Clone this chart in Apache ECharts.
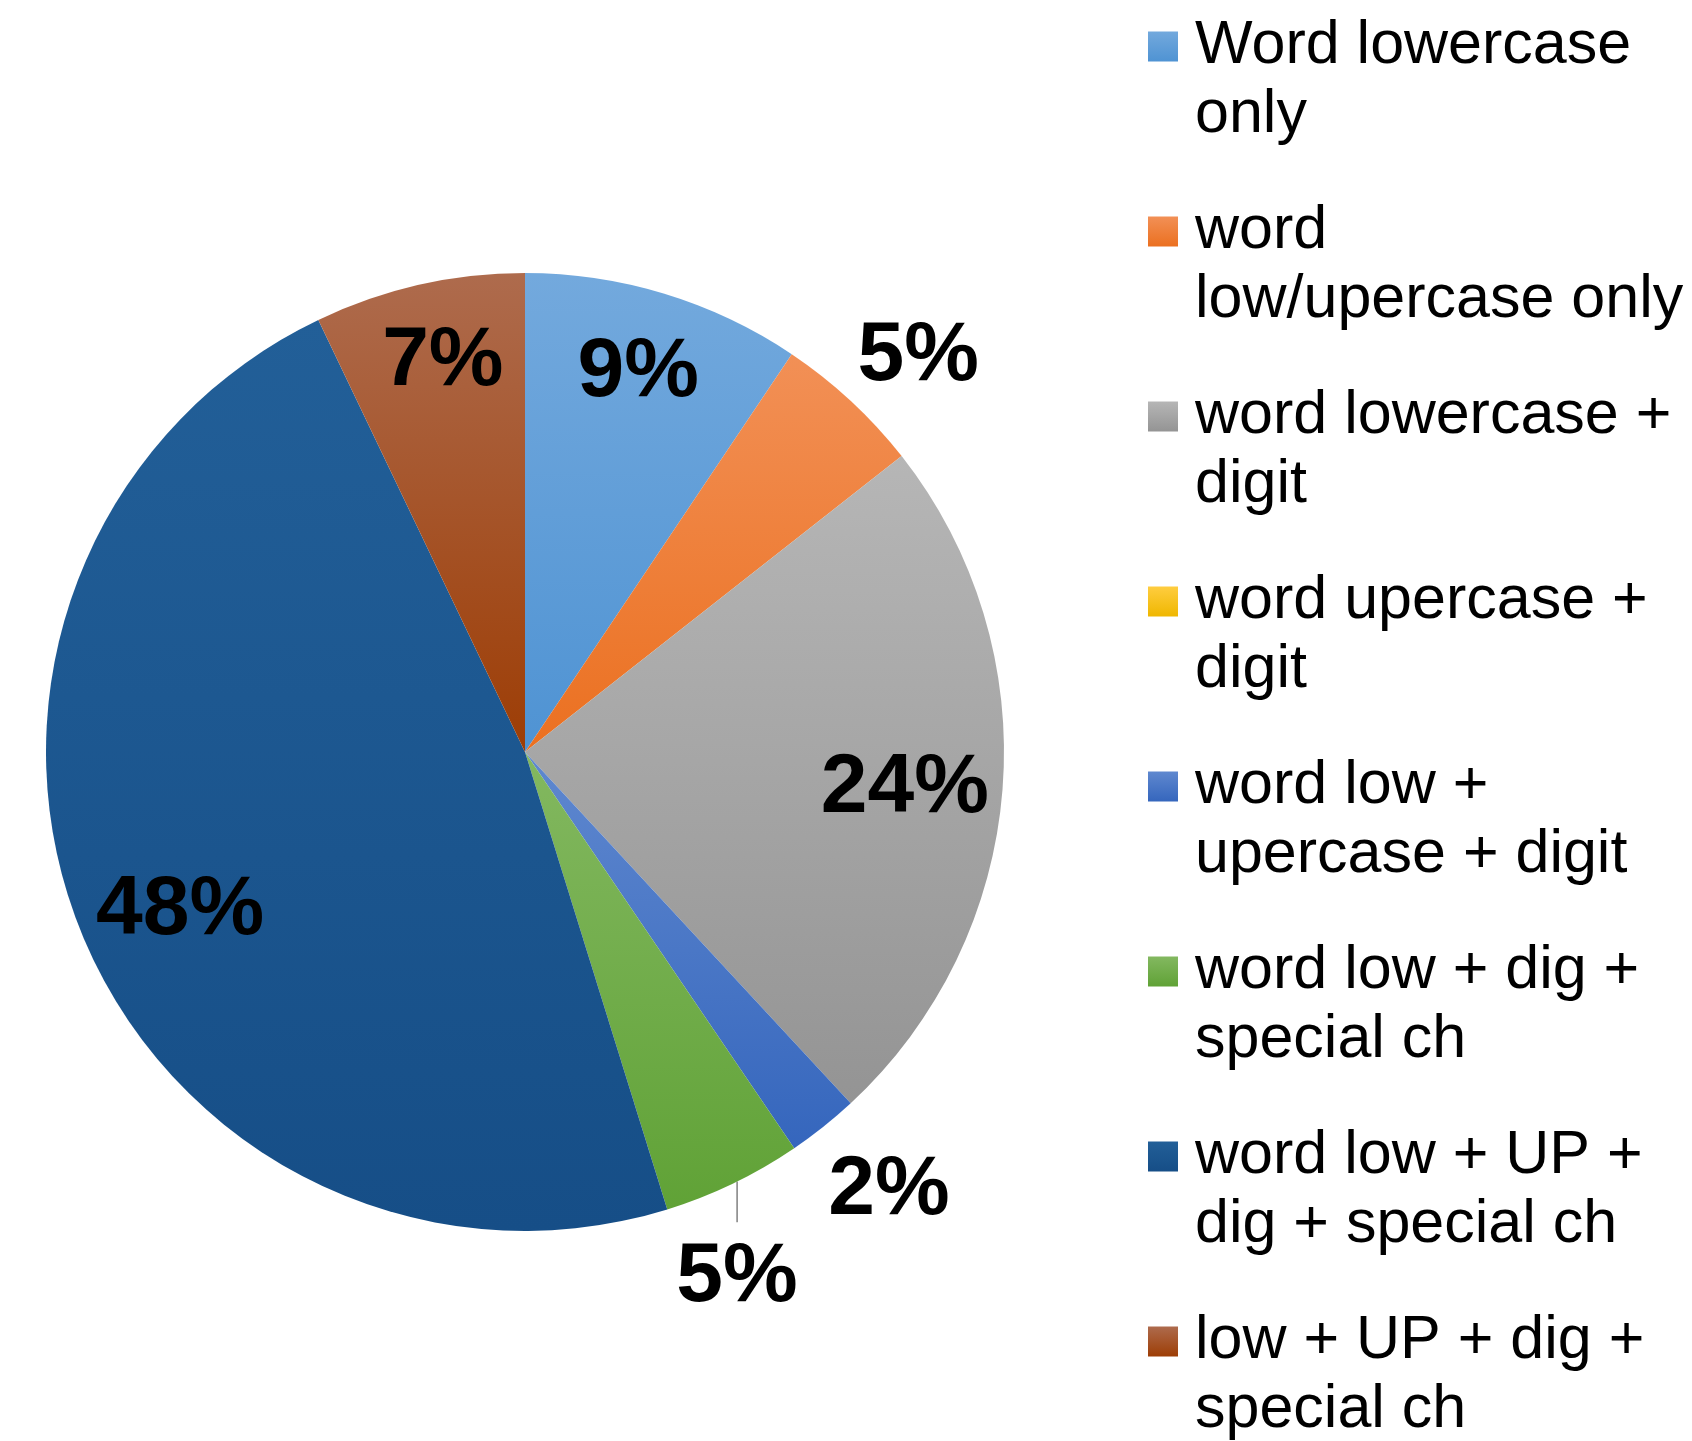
<!DOCTYPE html>
<html>
<head>
<meta charset="utf-8">
<script src="https://cdn.jsdelivr.net/npm/echarts@6/dist/echarts.min.js"></script>
<style>
  html, body { margin: 0; padding: 0; background: #ffffff; }
  #chart { width: 1692px; height: 1441px; }
</style>
</head>
<body>
<div id="chart"></div>
<script>
// ---- data ----
const categories = [
  'Word lowercase\nonly',
  'word\nlow/upercase only',
  'word lowercase +\ndigit',
  'word upercase +\ndigit',
  'word low +\nupercase + digit',
  'word low + dig +\nspecial ch',
  'word low + UP +\ndig + special ch',
  'low + UP + dig +\nspecial ch'
];
const values = [9.4, 5.0, 23.7, 0, 2.4, 4.7, 47.7, 7.1];
// gradient stops (top, bottom) per slice
const colorsTop    = ['#73a9dd', '#f29056', '#b6b6b6', '#ffcd40', '#5f88cf', '#83b860', '#225f98', '#ae6b4d'];
const colorsBottom = ['#4f93d3', '#eb7020', '#949494', '#efb700', '#3566bd', '#60a236', '#164e87', '#9d3d05'];

// ---- label placement config (styling, not data) ----
const nearEdgeIdx = [0, 7];     // inside, close to the rim
const midIdx = [2, 6];          // inside, a little deeper
const outsideIdx = [1, 4, 5];   // outside the pie
const leaderIdx = [5];          // outside label with a leader line
const labelNudge = { 0: [-4, 6], 7: [7, 3], 2: [3, 7], 6: [7, 21], 1: [11, 17], 4: [14, -1], 5: [-32, 20] };

const chart = echarts.init(document.getElementById('chart'), null, { renderer: 'canvas' });

const FONT = '"Liberation Sans", Arial, sans-serif';
const CENTER = [525, 752];
const R = 479;
const OUT_R = 562;

function grad(i) {
  return new echarts.graphic.LinearGradient(0, 0, 0, 1, [
    { offset: 0, color: colorsTop[i] },
    { offset: 1, color: colorsBottom[i] }
  ]);
}

const labelFont = {
  fontFamily: FONT, fontWeight: 'bold', fontSize: 84, color: '#000',
  formatter: p => Math.round(p.value) + '%'
};

const mainData = categories.map((c, i) => {
  const out = outsideIdx.includes(i) && values[i] > 0;
  const lead = leaderIdx.includes(i);
  return {
    name: c, value: values[i],
    itemStyle: { color: grad(i) },
    label: Object.assign({ show: out, position: 'outside' }, labelFont),
    labelLine: {
      show: out, length: 10, length2: 0, smooth: false,
      lineStyle: lead ? { color: '#404040', width: 1 } : { color: 'rgba(0,0,0,0)', width: 0 }
    }
  };
});

function ringData(idxList) {
  return categories.map((c, i) => ({
    name: c, value: values[i],
    label: Object.assign({
      show: idxList.includes(i) && values[i] > 0,
      position: 'inside',
      offset: labelNudge[i] || [0, 0]
    }, labelFont)
  }));
}

const overlayCommon = {
  type: 'pie', center: CENTER, startAngle: 90, clockwise: true,
  silent: true, animation: false, avoidLabelOverlap: false,
  itemStyle: { color: 'rgba(0,0,0,0)', borderWidth: 0 },
  labelLine: { show: false },
  emphasis: { disabled: true },
  legendHoverLink: false
};

chart.setOption({
  backgroundColor: '#ffffff',
  animation: false,
  legend: {
    orient: 'vertical',
    left: 1148,
    top: -57,
    height: 1700,
    padding: 0,
    icon: 'rect',
    itemWidth: 30,
    itemHeight: 30,
    itemGap: -22,
    selectedMode: false,
    data: categories,
    formatter: name => '\n' + name,
    textStyle: {
      fontFamily: FONT, fontSize: 61, lineHeight: 69, color: '#000',
      padding: [0, 0, 0, 12]
    }
  },
  series: [
    {
      type: 'pie', center: CENTER, radius: [0, R], startAngle: 90, clockwise: true,
      animation: false, avoidLabelOverlap: false,
      itemStyle: { borderWidth: 0 },
      emphasis: { disabled: true },
      data: mainData,
      labelLayout: function (p) {
        if (!p.labelLinePoints || !p.labelLinePoints.length) return {};
        const a = p.labelLinePoints[0];
        const k = OUT_R / R;
        const n = labelNudge[p.dataIndex] || [0, 0];
        const x = CENTER[0] + (a[0] - CENTER[0]) * k + n[0];
        const y = CENTER[1] + (a[1] - CENTER[1]) * k + n[1];
        const res = { x: x, y: y, align: 'center', verticalAlign: 'middle' };
        if (leaderIdx.includes(p.dataIndex)) {
          const dxc = x - CENTER[0];
          const arcY = CENTER[1] + Math.sqrt(Math.max(0, R * R - dxc * dxc));
          res.labelLinePoints = [[x, arcY], [x, y - p.labelRect.height / 2 - 14]];
        }
        return res;
      }
    },
    Object.assign({}, overlayCommon, { radius: [321, R], data: ringData(nearEdgeIdx) }),
    Object.assign({}, overlayCommon, { radius: [271, R], data: ringData(midIdx) })
  ]
});
</script>
</body>
</html>
